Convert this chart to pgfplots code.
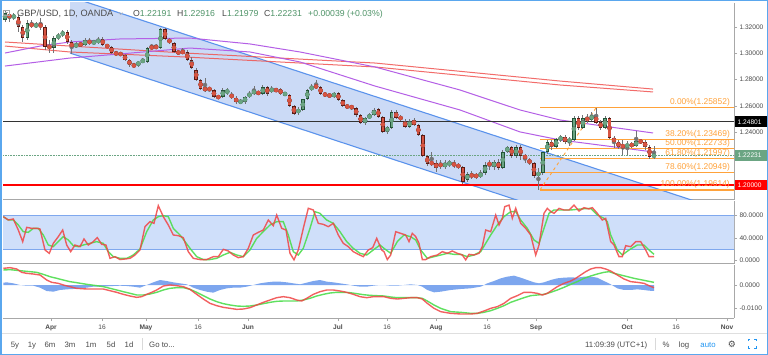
\documentclass[border=0pt]{standalone}
\usepackage{pgfplots}
\pgfplotsset{compat=1.18}
\usepackage{pgfplotstable}
\usepackage{fontspec}
\setmainfont{Liberation Sans}
\newfontfamily\symfont{DejaVu Sans}
\definecolor{upbody}{HTML}{6BA583}
\definecolor{upborder}{HTML}{225437}
\definecolor{dnbody}{HTML}{D75442}
\definecolor{dnborder}{HTML}{5B1A13}
\definecolor{wick}{HTML}{737375}
\definecolor{chfill}{HTML}{CBDAF6}
\definecolor{chline}{HTML}{5B93EC}
\definecolor{purp}{HTML}{B45FE6}
\definecolor{mared}{HTML}{F05350}
\definecolor{fibor}{HTML}{FFA23A}
\definecolor{labgray}{HTML}{4A4A4A}
\definecolor{sepgray}{HTML}{A8A8A8}
\definecolor{bandfill}{HTML}{CFDFFA}
\definecolor{bandline}{HTML}{7FA8EE}
\definecolor{kred}{HTML}{F04545}
\definecolor{dgreen}{HTML}{4EDD4E}
\definecolor{histblue}{HTML}{6F9DED}
\definecolor{valgreen}{HTML}{4F9468}
\definecolor{border}{HTML}{5AA7EE}
\definecolor{tbblue}{HTML}{2196F3}
\newcommand\lab{\fontsize{6.6}{7.5}\selectfont}

\pgfplotstableread{
i o h l c
0 1.3253 1.3329 1.3238 1.3306
1 1.3299 1.3314 1.3238 1.3268
2 1.3268 1.3306 1.3253 1.3291
3 1.3276 1.3291 1.3162 1.3200
4 1.3200 1.3215 1.3086 1.3116
5 1.3116 1.3253 1.3101 1.3230
6 1.3223 1.3253 1.3192 1.3208
7 1.3208 1.3238 1.3192 1.3215
8 1.3215 1.3268 1.3177 1.3208
9 1.3200 1.3215 1.3025 1.3048
10 1.3055 1.3101 1.3002 1.3040
11 1.3040 1.3132 1.3002 1.3116
12 1.3116 1.3154 1.3101 1.3139
13 1.3139 1.3177 1.3124 1.3162
14 1.3162 1.3177 1.3071 1.3086
15 1.3086 1.3101 1.2995 1.3040
16 1.3048 1.3086 1.3040 1.3071
17 1.3071 1.3086 1.3048 1.3063
18 1.3063 1.3116 1.3055 1.3101
19 1.3101 1.3116 1.3063 1.3071
20 1.3078 1.3101 1.3071 1.3086
21 1.3078 1.3124 1.3071 1.3109
22 1.3109 1.3124 1.3055 1.3063
23 1.3063 1.3071 1.3040 1.3048
24 1.3048 1.3055 1.2995 1.3002
25 1.3002 1.3017 1.2987 1.2995
26 1.3002 1.3010 1.2979 1.2987
27 1.2987 1.2995 1.2942 1.2949
28 1.2949 1.2957 1.2896 1.2911
29 1.2911 1.2926 1.2896 1.2903
30 1.2911 1.2942 1.2896 1.2934
31 1.2934 1.2964 1.2926 1.2949
32 1.2934 1.3048 1.2926 1.3040
33 1.3048 1.3071 1.3033 1.3040
34 1.3055 1.3071 1.3033 1.3040
35 1.3040 1.3192 1.3033 1.3185
36 1.3185 1.3192 1.3101 1.3109
37 1.3109 1.3116 1.3071 1.3078
38 1.3078 1.3086 1.3002 1.3010
39 1.3010 1.3025 1.2987 1.3002
40 1.3017 1.3040 1.2995 1.3002
41 1.3010 1.3025 1.2942 1.2949
42 1.2949 1.2972 1.2880 1.2888
43 1.2873 1.2888 1.2789 1.2797
44 1.2797 1.2805 1.2721 1.2728
45 1.2728 1.2812 1.2706 1.2728
46 1.2730 1.2736 1.2713 1.2728
47 1.2721 1.2728 1.2660 1.2668
48 1.2668 1.2683 1.2652 1.2666
49 1.2668 1.2736 1.2660 1.2721
50 1.2698 1.2736 1.2683 1.2721
51 1.2690 1.2706 1.2652 1.2660
52 1.2660 1.2675 1.2614 1.2630
53 1.2630 1.2652 1.2614 1.2632
54 1.2630 1.2675 1.2614 1.2668
55 1.2668 1.2713 1.2660 1.2698
56 1.2690 1.2751 1.2683 1.2721
57 1.2700 1.2713 1.2683 1.2698
58 1.2690 1.2759 1.2683 1.2744
59 1.2744 1.2751 1.2675 1.2690
60 1.2706 1.2751 1.2698 1.2736
61 1.2721 1.2736 1.2706 1.2719
62 1.2728 1.2736 1.2683 1.2690
63 1.2690 1.2706 1.2675 1.2692
64 1.2683 1.2690 1.2592 1.2599
65 1.2599 1.2607 1.2531 1.2538
66 1.2546 1.2592 1.2531 1.2576
67 1.2569 1.2652 1.2561 1.2652
68 1.2652 1.2728 1.2645 1.2721
69 1.2721 1.2766 1.2713 1.2751
70 1.2751 1.2797 1.2728 1.2744
71 1.2744 1.2751 1.2683 1.2690
72 1.2690 1.2698 1.2675 1.2683
73 1.2690 1.2698 1.2660 1.2668
74 1.2668 1.2706 1.2660 1.2698
75 1.2698 1.2706 1.2637 1.2645
76 1.2645 1.2652 1.2592 1.2599
77 1.2599 1.2607 1.2584 1.2592
78 1.2592 1.2607 1.2569 1.2590
79 1.2584 1.2592 1.2516 1.2531
80 1.2531 1.2538 1.2462 1.2470
81 1.2470 1.2516 1.2455 1.2508
82 1.2508 1.2546 1.2500 1.2531
83 1.2531 1.2584 1.2523 1.2569
84 1.2576 1.2584 1.2508 1.2516
85 1.2516 1.2523 1.2394 1.2402
86 1.2402 1.2447 1.2386 1.2440
87 1.2432 1.2569 1.2424 1.2554
88 1.2554 1.2569 1.2500 1.2508
89 1.2516 1.2531 1.2485 1.2500
90 1.2485 1.2500 1.2432 1.2440
91 1.2440 1.2500 1.2432 1.2485
92 1.2493 1.2508 1.2447 1.2455
93 1.2455 1.2462 1.2371 1.2379
94 1.2379 1.2386 1.2212 1.2219
95 1.2219 1.2227 1.2143 1.2158
96 1.2166 1.2250 1.2143 1.2164
97 1.2166 1.2189 1.2098 1.2128
98 1.2166 1.2189 1.2120 1.2136
99 1.2136 1.2189 1.2120 1.2166
100 1.2151 1.2189 1.2136 1.2174
101 1.2166 1.2189 1.2128 1.2143
102 1.2151 1.2166 1.2120 1.2136
103 1.2136 1.2143 1.2006 1.2021
104 1.2037 1.2098 1.2021 1.2082
105 1.2082 1.2105 1.2044 1.2060
106 1.2075 1.2090 1.2044 1.2060
107 1.2060 1.2113 1.2052 1.2090
108 1.2090 1.2174 1.2075 1.2151
109 1.2166 1.2189 1.2113 1.2151
110 1.2136 1.2189 1.2113 1.2174
111 1.2174 1.2196 1.2113 1.2128
112 1.2128 1.2265 1.2120 1.2250
113 1.2250 1.2295 1.2242 1.2288
114 1.2288 1.2295 1.2204 1.2219
115 1.2219 1.2303 1.2204 1.2288
116 1.2288 1.2303 1.2189 1.2219
117 1.2219 1.2234 1.2166 1.2204
118 1.2189 1.2204 1.2151 1.2166
119 1.2166 1.2174 1.2052 1.2067
120 1.2067 1.2128 1.1961 1.2098
121 1.2090 1.2250 1.2075 1.2250
122 1.2250 1.2341 1.2234 1.2326
123 1.2326 1.2341 1.2265 1.2288
124 1.2288 1.2356 1.2280 1.2348
125 1.2341 1.2379 1.2326 1.2364
126 1.2364 1.2379 1.2310 1.2326
127 1.2326 1.2364 1.2295 1.2348
128 1.2341 1.2523 1.2333 1.2508
129 1.2508 1.2523 1.2417 1.2432
130 1.2432 1.2531 1.2424 1.2508
131 1.2516 1.2538 1.2470 1.2485
132 1.2493 1.2554 1.2485 1.2531
133 1.2531 1.2585 1.2462 1.2470
134 1.2477 1.2493 1.2417 1.2432
135 1.2432 1.2523 1.2424 1.2508
136 1.2508 1.2516 1.2348 1.2356
137 1.2356 1.2371 1.2280 1.2326
138 1.2326 1.2341 1.2272 1.2288
139 1.2295 1.2341 1.2227 1.2293
140 1.2288 1.2333 1.2227 1.2310
141 1.2310 1.2326 1.2280 1.2295
142 1.2295 1.2409 1.2288 1.2333
143 1.2333 1.2348 1.2310 1.2326
144 1.2326 1.2341 1.2265 1.2288
145 1.2288 1.2303 1.2196 1.2212
146 1.22191 1.22916 1.21979 1.22231
}\candles

\pgfplotsset{
  candlebase/.style={only marks, mark=none,
    error bars/y dir=both, error bars/y explicit, error bars/error mark=none},
  pane/.style={scale only axis, width=731pt, xmin=3, xmax=734,
    axis x line*=bottom, axis y line*=right,
    axis line style={draw=sepgray, line width=1pt, -},
    tick align=outside, major tick length=3pt,
    tick style={draw=sepgray, line width=0.6pt},
    yticklabel style={font=\lab, text=labgray, anchor=west, xshift=-1pt},
    xticklabel style={font=\lab, text=labgray},
    xtick=\empty, clip=true},
}

\begin{document}
\begin{tikzpicture}
\path[use as bounding box] (0,0) rectangle (768pt,-355pt);
\fill[white] (0,0) rectangle (768pt,-355pt);

% ---------------- price pane
\begin{axis}[pane, at={(3pt,-3pt)}, anchor=north west, height=197pt,
  ymin=1.188441, ymax=1.338251,
  ytick={1.24,1.26,1.28,1.30,1.32},
  yticklabels={1.24000,1.26000,1.28000,1.30000,1.32000}]
% channel
\addplot[fill=chfill, draw=none] coordinates {(70,1.3430) (760,1.1714) (760,1.1276) (70,1.3002)} --cycle;
\addplot[chline, line width=1.1pt] coordinates {(70,1.3430) (760,1.1714)};
\addplot[chline, line width=1.1pt] coordinates {(70,1.3002) (760,1.1276)};
% moving averages
\addplot[mared, line width=1pt, opacity=0.85] coordinates {(5,1.3086) (70,1.3055) (185,1.3002) (375,1.2926) (560,1.2789) (653,1.2728)};
\addplot[mared, line width=1pt, opacity=0.85] coordinates {(5,1.3055) (70,1.3010) (185,1.2972) (375,1.2896) (560,1.2759) (653,1.2706)};
\addplot[purp, line width=1pt] coordinates {(5,1.3002) (40,1.3055) (70,1.3086) (120,1.3109) (190,1.3116) (250,1.3071) (300,1.3010) (375,1.2896) (460,1.2721) (520,1.2569) (560,1.2493) (653,1.2394)};
\addplot[purp, line width=1pt] coordinates {(5,1.2903) (70,1.2964) (120,1.2995) (190,1.3040) (250,1.3010) (300,1.2934) (375,1.2751) (460,1.2569) (520,1.2402) (560,1.2341) (653,1.2250)};
% horizontal levels
\addplot[black!80, line width=1.6pt] coordinates {(0,1.24801) (740,1.24801)};
\addplot[red, line width=1.5pt] coordinates {(0,1.20000) (740,1.20000)};
\addplot[upbody, line width=0.6pt, densely dotted] coordinates {(0,1.22231) (740,1.22231)};
% fibonacci
\addplot[fibor, line width=1.1pt] coordinates {(540,1.25852) (740,1.25852)};
\addplot[fibor, line width=1.1pt] coordinates {(540,1.23469) (740,1.23469)};
\addplot[fibor, line width=1.1pt] coordinates {(540,1.22733) (740,1.22733)};
\addplot[fibor, line width=1.1pt] coordinates {(540,1.21997) (740,1.21997)};
\addplot[fibor, line width=1.1pt] coordinates {(540,1.20949) (740,1.20949)};
\addplot[fibor, line width=1.6pt] coordinates {(540,1.19614) (740,1.19614)};
\addplot[fibor, line width=0.9pt, dashed] coordinates {(540,1.19614) (596,1.25852)};
% candles
\addplot[candlebase, color=wick, error bars/error bar style={line width=0.8pt}]
  table[x expr=5+4.445*\thisrow{i}, y expr=(\thisrow{h}+\thisrow{l})/2, y error expr=(\thisrow{h}-\thisrow{l})/2] {\candles};
\addplot[candlebase, color=upborder, error bars/error bar style={line width=3.4pt},
  restrict expr to domain={\thisrow{c}-\thisrow{o}}{0:1}]
  table[x expr=5+4.445*\thisrow{i}, y expr=(\thisrow{o}+\thisrow{c})/2, y error expr={max(abs(\thisrow{c}-\thisrow{o})/2,0.0004)}] {\candles};
\addplot[candlebase, color=upbody, error bars/error bar style={line width=2.2pt},
  restrict expr to domain={\thisrow{c}-\thisrow{o}}{0:1}]
  table[x expr=5+4.445*\thisrow{i}, y expr=(\thisrow{o}+\thisrow{c})/2, y error expr={max(abs(\thisrow{c}-\thisrow{o})/2-0.0005,0)}] {\candles};
\addplot[candlebase, color=dnborder, error bars/error bar style={line width=3.4pt},
  restrict expr to domain={\thisrow{c}-\thisrow{o}}{-1:0}]
  table[x expr=5+4.445*\thisrow{i}, y expr=(\thisrow{o}+\thisrow{c})/2, y error expr={max(abs(\thisrow{c}-\thisrow{o})/2,0.0004)}] {\candles};
\addplot[candlebase, color=dnbody, error bars/error bar style={line width=2.2pt},
  restrict expr to domain={\thisrow{c}-\thisrow{o}}{-1:0}]
  table[x expr=5+4.445*\thisrow{i}, y expr=(\thisrow{o}+\thisrow{c})/2, y error expr={max(abs(\thisrow{c}-\thisrow{o})/2-0.0005,0)}] {\candles};
% fib labels
\begin{scope}[every node/.style={anchor=south east, inner sep=1pt, text=fibor, font=\fontsize{8.4}{9}\selectfont}]
\node at (axis cs:731,1.25852) {0.00\%(1.25852)};
\node at (axis cs:731,1.23469) {38.20\%(1.23469)};
\node at (axis cs:731,1.22733) {50.00\%(1.22733)};
\node at (axis cs:731,1.21997) {61.80\%(1.21997)};
\node at (axis cs:731,1.20949) {78.60\%(1.20949)};
\node at (axis cs:731,1.19614) {100.00\%(1.19614)};
\end{scope}
\end{axis}

% ---------------- stochastic pane
\begin{axis}[pane, at={(3pt,-201pt)}, anchor=north west, height=63pt,
  ymin=-7, ymax=106.4, ytick={0,40,80}, yticklabels={0.0000,40.0000,80.0000}]
\addplot[fill=bandfill, draw=none] coordinates {(0,20) (740,20) (740,80) (0,80)} --cycle;
\addplot[bandline, line width=0.9pt] coordinates {(0,80) (740,80)};
\addplot[bandline, line width=0.9pt] coordinates {(0,20) (740,20)};
\addplot[dgreen, line width=1.4pt, opacity=0.9] coordinates {(3.3,78.2)(8.3,72.2)(13.3,72.2)(18.3,63.2)(23.3,51.2)(28.3,50)(33.3,57.2)(38.3,57.2)(43.3,45.2)(48.3,27.2)(53.3,24.2)(58.3,33.2)(63.3,42.2)(68.3,36.2)(73.3,26)(78.3,24.2)(83.3,27.2)(90,30.2)(96.7,33.2)(103.3,30.2)(108.3,15.2)(113.3,6.2)(120,3.2)(126.7,3.2)(133.3,9.2)(140,20)(146.7,51.2)(153.3,72.2)(158.3,78.2)(163.3,80)(168.3,78.2)(173.3,57.2)(180,45.2)(185,33.2)(190,21.2)(196.7,6.2)(203.3,1)(210,1)(216.7,3.2)(223.3,9.2)(230,14)(236.7,9.2)(243.3,6.2)(250,18.2)(256.7,39.2)(263.3,51.2)(270,63.2)(276.7,69.2)(283.3,69.2)(288.3,45.2)(293.3,15.2)(298.3,9.2)(303.3,21.2)(310,57.2)(315,87.2)(320,84.2)(326.7,72.2)(333.3,66.2)(340,51.2)(346.7,33.2)(353.3,21.2)(360,12.2)(366.7,9.2)(373.3,18.2)(380,27.2)(384,21.2)(390.7,12.2)(397.3,33.2)(404,45.2)(410.7,42.2)(415.7,36.2)(420.7,18.2)(427.3,3.2)(434,6.2)(440.7,9.2)(447.3,12.2)(454,10.4)(460.7,10.4)(467.3,6.2)(474,9.2)(480.7,15.2)(485.7,30.2)(490.7,45.2)(497.3,63.2)(504,78.2)(510.7,87.2)(515.7,87.2)(520.7,72.2)(527.3,57.2)(534,36.2)(539,30.2)(544,57.2)(549,84.2)(554,90.2)(560.7,90.2)(570.7,90.2)(580.7,92)(590.7,93.2)(597.3,81.2)(604,75.2)(607.3,69.2)(610.7,45.2)(617.3,18.2)(622.3,9.2)(629,18.2)(637.3,27.2)(644,27.2)(649,18.2)(654,10.4)};
\addplot[kred, line width=1.4pt, opacity=0.85] coordinates {(3.3,78.2)(8.3,72.2)(13.3,74)(18.3,54.2)(22.7,33.2)(26.7,59)(31.7,57.2)(36.7,57.2)(40,56)(45,18.2)(49.3,12.2)(53.3,30.2)(58.3,42.2)(62.7,54.2)(66.7,27.2)(70.7,15.2)(75,27.2)(80,24.2)(84,38)(88.3,27.2)(93.3,33.2)(97.3,40.4)(101.7,28.4)(106,27.2)(110,3.2)(115,6.2)(120,1)(125,2)(130,3.2)(135,9.2)(140,18.2)(145,60.2)(150,69.2)(154,66.2)(158.3,98)(163.3,78.2)(168.3,63.2)(173.3,45.2)(178.3,44)(183.3,40.4)(188.3,15.2)(193.3,3.2)(200,1)(206.7,1)(213.3,6.2)(218.3,6.2)(223.3,19.4)(228.3,16.4)(233.3,9.2)(238.3,4.4)(243.3,6.2)(248.3,21.2)(253.3,45.2)(258.3,50)(263.3,54.2)(268.3,72.2)(273.3,62)(276.7,81.2)(281.7,57.2)(286,54.2)(290,12.2)(294,0.5)(298.3,18.2)(303.3,57.2)(308.3,93.2)(313.3,90.2)(318.3,66.2)(323.3,64.4)(328.3,60.2)(333.3,66.2)(338.3,45.2)(343.3,30.2)(348.3,24.2)(353.3,15.2)(358.3,10.4)(363.3,6.2)(368.3,18.2)(372.7,22.4)(376.7,39.2)(381.7,18.2)(384,15.2)(387.3,1)(390.7,9.2)(395.7,51.2)(400.7,48.2)(405.7,45.2)(409,33.2)(412.3,48.2)(415.7,42.2)(419,30.2)(422.3,1)(425.7,1)(430.7,6.2)(437.3,9.2)(442.3,15.2)(447.3,12.2)(452.3,16.4)(457.3,12.2)(462.3,9.2)(465.7,0.5)(469,10.4)(474,9.2)(479,12.2)(482.3,24.2)(485.7,54.2)(490.7,51.2)(495.7,81.2)(499,63.2)(502.3,75.2)(504.7,96.2)(509,99)(512.3,75.2)(515.7,93.2)(520.7,66.2)(525.7,57.2)(530.7,45.2)(535.7,9.2)(539,27.2)(544,84.2)(547.3,93.2)(550.7,87.2)(554,84.2)(559,93.2)(564,90.2)(569,90.2)(574,99)(579,88.4)(584,94.4)(589,92)(592.3,94.4)(597.3,84.2)(602.3,72.2)(605.7,75.2)(610.7,33.2)(614,27.2)(619,6.2)(622.3,6.2)(625.7,26)(630.7,24.2)(635.7,33.2)(640.7,33.2)(645.7,18.2)(649,6.2)(654,6.2)};
\end{axis}

% ---------------- MACD pane (values in units of 0.0001)
\begin{axis}[pane, at={(3pt,-265pt)}, anchor=north west, height=53pt,
  ymin=-141.4, ymax=85.7, ytick={-100,0}, yticklabels={-0.0100,0.0000},
  xtick={51,102,146,198,248,338,387,436,487,536,627,676,727},
  xticklabels={\textbf{Apr},16,\textbf{May},16,\textbf{Jun},\textbf{Jul},16,\textbf{Aug},16,\textbf{Sep},\textbf{Oct},16,\textbf{Nov}}]
\addplot[fill=histblue, draw=none, opacity=0.9] coordinates {(3.3,10)(6.7,11.4)(13.3,7.1)(20,0)(26.7,-2.9)(33.3,-2.9)(40,-11.4)(46.7,-25.7)(53.3,-28.6)(60,-21.4)(66.7,-18.6)(73.3,-17.1)(80,-14.3)(86.7,-11.4)(93.3,-7.1)(100,-7.1)(106.7,-5.7)(113.3,-4.3)(120,-2.9)(126.7,-4.3)(133.3,-7.1)(140,-11.4)(146.7,0)(153.3,11.4)(160,21.4)(166.7,17.1)(173.3,11.4)(180,7.1)(186.7,2.9)(193.3,-11.4)(200,-21.4)(206.7,-28.6)(213.3,-32.9)(220,-21.4)(226.7,-14.3)(233.3,-11.4)(240,-11.4)(246.7,-7.1)(253.3,0)(260,7.1)(266.7,11.4)(273.3,14.3)(280,14.3)(286.7,11.4)(293.3,7.1)(300,2.9)(306.7,10)(313.3,17.1)(320,21.4)(326.7,14.3)(333.3,11.4)(340,7.1)(346.7,2.9)(353.3,-2.9)(360,-7.1)(366.7,-7.1)(373.3,-2.9)(380,0)(384,0)(390.7,-2.9)(397.3,-2.9)(404,0)(410.7,2.9)(417.3,0)(422.3,-7.1)(427.3,-21.4)(434,-31.4)(440.7,-28.6)(450.7,-21.4)(460.7,-17.1)(470.7,-14.3)(480.7,-7.1)(487.3,7.1)(494,17.1)(500.7,28.6)(507.3,35.7)(514,40)(520.7,31.4)(527.3,21.4)(534,11.4)(539,7.1)(544,11.4)(550.7,21.4)(557.3,28.6)(564,31.4)(570.7,32.9)(577.3,31.4)(584,35.7)(590.7,35.7)(597.3,31.4)(604,17.1)(610.7,2.9)(617.3,-14.3)(624,-21.4)(630.7,-21.4)(637.3,-18.6)(644,-21.4)(649,-24.3)(654,-25.7)} \closedcycle;
\addplot[dgreen, line width=1.4pt, opacity=0.9] coordinates {(3.3,64.3)(10,65.7)(16.7,62.9)(23.3,60)(30,57.1)(36.7,54.3)(43.3,45.7)(50,35.7)(56.7,28.6)(63.3,21.4)(70,14.3)(76.7,10)(86.7,2.9)(96.7,-2.9)(103.3,-7.1)(110,-14.3)(116.7,-21.4)(123.3,-28.6)(130,-35.7)(136.7,-42.9)(143.3,-42.9)(150,-38.6)(156.7,-31.4)(163.3,-21.4)(170,-14.3)(176.7,-11.4)(183.3,-11.4)(190,-18.6)(196.7,-31.4)(203.3,-45.7)(210,-60)(216.7,-71.4)(223.3,-80)(230,-85.7)(236.7,-90)(243.3,-91.4)(250,-90)(256.7,-85.7)(263.3,-80)(270,-74.3)(276.7,-70)(283.3,-68.6)(290,-68.6)(296.7,-68.6)(303.3,-64.3)(310,-57.1)(316.7,-47.1)(323.3,-40)(330,-34.3)(336.7,-31.4)(343.3,-31.4)(350,-32.9)(356.7,-37.1)(363.3,-41.4)(370,-44.3)(376.7,-45.7)(384,-47.1)(390.7,-51.4)(397.3,-54.3)(404,-54.3)(410.7,-54.3)(417.3,-54.3)(422.3,-57.1)(427.3,-68.6)(434,-85.7)(440.7,-100)(450.7,-114.3)(460.7,-117.1)(470.7,-121.4)(477.3,-121.4)(484,-117.1)(490.7,-110)(497.3,-100)(504,-88.6)(510.7,-74.3)(517.3,-64.3)(524,-54.3)(530.7,-45.7)(537.3,-42.9)(544,-40)(550.7,-31.4)(557.3,-21.4)(564,-10)(570.7,2.9)(577.3,14.3)(584,28.6)(590.7,38.6)(597.3,47.1)(604,54.3)(609,57.1)(614,50)(620.7,42.9)(627.3,35.7)(634,28.6)(640.7,22.9)(647.3,17.1)(654,11.4)};
\addplot[kred, line width=1.4pt, opacity=0.85] coordinates {(3.3,71.4)(10,74.3)(16.7,68.6)(21.7,54.3)(26.7,50)(33.3,47.1)(40,42.9)(46.7,21.4)(51.7,11.4)(58.3,7.1)(63.3,0)(70,-7.1)(76.7,-14.3)(86.7,-17.1)(96.7,-17.1)(103.3,-17.1)(110,-24.3)(116.7,-31.4)(123.3,-40)(130,-47.1)(136.7,-52.9)(141.7,-50)(146.7,-40)(151.7,-31.4)(156.7,-21.4)(163.3,-4.3)(170,0)(176.7,-2.9)(183.3,-7.1)(190,-18.6)(196.7,-40)(203.3,-60)(210,-78.6)(216.7,-88.6)(223.3,-95.7)(230,-100)(236.7,-104.3)(243.3,-102.9)(250,-97.1)(256.7,-85.7)(263.3,-74.3)(270,-64.3)(276.7,-54.3)(283.3,-50)(290,-54.3)(296.7,-64.3)(301.7,-68.6)(306.7,-57.1)(313.3,-40)(320,-28.6)(326.7,-21.4)(333.3,-21.4)(340,-25.7)(346.7,-31.4)(353.3,-40)(360,-50)(366.7,-54.3)(373.3,-50)(380,-50)(384,-50)(390.7,-57.1)(397.3,-60)(404,-57.1)(410.7,-54.3)(417.3,-54.3)(422.3,-60)(427.3,-78.6)(434,-100)(440.7,-114.3)(450.7,-121.4)(460.7,-124.3)(470.7,-124.3)(477.3,-121.4)(484,-111.4)(490.7,-100)(497.3,-92.9)(504,-78.6)(510.7,-57.1)(517.3,-45.7)(524,-31.4)(530.7,-31.4)(537.3,-35.7)(542.3,-42.9)(547.3,-35.7)(552.3,-21.4)(557.3,-7.1)(564,7.1)(570.7,17.1)(575.7,28.6)(580.7,42.9)(585.7,57.1)(590.7,68.6)(595.7,74.3)(600.7,74.3)(605.7,68.6)(610.7,60)(617.3,42.9)(624,25.7)(630.7,14.3)(637.3,11.4)(644,7.1)(649,-2.9)(654,-11.4)};
\end{axis}

% ---------------- right price-scale markers
\begin{scope}[every node/.style={anchor=west, inner sep=0pt, text=white, font=\lab, minimum height=10.5pt, text depth=0pt}]
\fill[black] (735pt,-116.5pt) rectangle (767pt,-127pt);
\node at (737.5pt,-121.7pt) {1.24801};
\fill[upbody] (735pt,-150.3pt) rectangle (767pt,-160.8pt);
\node at (737.5pt,-155.5pt) {1.22231};
\fill[red] (735pt,-179.6pt) rectangle (767pt,-190.1pt);
\node at (737.5pt,-184.8pt) {1.20000};
\end{scope}

% ---------------- top legend
\draw[gray!70, line width=0.6pt] (3.5pt,-10pt) rectangle (9pt,-15.5pt);
\draw[gray!70, line width=0.6pt] (4.8pt,-12.75pt) -- (7.7pt,-12.75pt);
\node[anchor=base west, inner sep=0pt, text=labgray, font=\fontsize{9.2}{10}\selectfont] at (17pt,-16.5pt) {GBP/USD, 1D, OANDA};
\draw[gray!60, line width=0.6pt] (118.5pt,-12.5pt) -- (120.5pt,-14.5pt) -- (122.5pt,-12.5pt);
\begin{scope}[every node/.style={anchor=base west, inner sep=0pt, font=\fontsize{8.7}{10}\selectfont}]
\node at (133pt,-16.5pt) {\textcolor{labgray}{O}\textcolor{valgreen}{1.22191}};
\node at (177pt,-16.5pt) {\textcolor{labgray}{H}\textcolor{valgreen}{1.22916}};
\node at (222pt,-16.5pt) {\textcolor{labgray}{L}\textcolor{valgreen}{1.21979}};
\node at (264pt,-16.5pt) {\textcolor{labgray}{C}\textcolor{valgreen}{1.22231}};
\node at (308pt,-16.5pt) {\textcolor{valgreen}{+0.00039 (+0.03\%)}};
\end{scope}

% ---------------- bottom toolbar
\draw[gray!25, line width=0.8pt] (0,-333pt) -- (768pt,-333pt);
\begin{scope}[every node/.style={anchor=base, inner sep=0pt, text=labgray, font=\fontsize{7.8}{9}\selectfont}]
\node at (15pt,-347pt) {5y};
\node at (32pt,-347pt) {1y};
\node at (50pt,-347pt) {6m};
\node at (70pt,-347pt) {3m};
\node at (91pt,-347pt) {1m};
\node at (111pt,-347pt) {5d};
\node at (129pt,-347pt) {1d};
\node[anchor=base west] at (149pt,-347pt) {Go to...};
\node[anchor=base west] at (585pt,-347pt) {11:09:39 (UTC+1)};
\node at (666pt,-347pt) {\%};
\node at (684pt,-347pt) {log};
\node[text=tbblue] at (708pt,-347pt) {auto};
\node[font=\symfont\fontsize{9}{10}\selectfont] at (732pt,-347.5pt) {⚙};
\end{scope}
\draw[gray!30, line width=0.8pt] (142pt,-338pt) -- (142pt,-350pt);
\draw[gray!30, line width=0.8pt] (655pt,-338pt) -- (655pt,-350pt);
\begin{scope}[tbblue, line width=1pt]
\draw (748pt,-341pt) -- (748pt,-339pt) -- (750pt,-339pt);
\draw (754pt,-339pt) -- (756pt,-339pt) -- (756pt,-341pt);
\draw (756pt,-346pt) -- (756pt,-348pt) -- (754pt,-348pt);
\draw (750pt,-348pt) -- (748pt,-348pt) -- (748pt,-346pt);
\end{scope}

% ---------------- outer frame
\draw[border, line width=1.5pt] (0.75pt,-0.75pt) rectangle (767.25pt,-354.25pt);
\end{tikzpicture}
\end{document}
